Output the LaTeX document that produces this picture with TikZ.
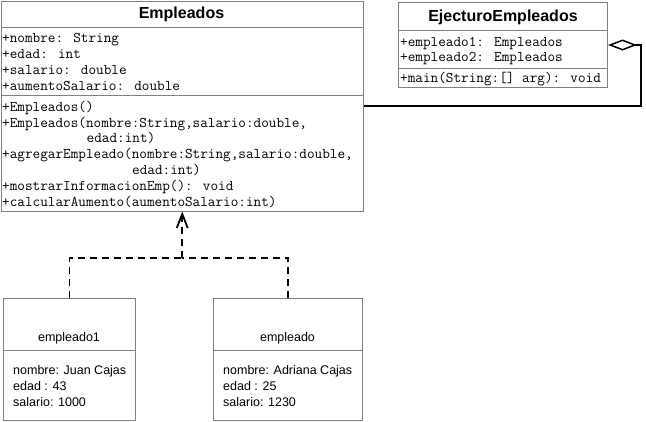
\documentclass[tikz,border=0pt]{standalone}
\usepackage{fontspec}
\setmainfont{Liberation Sans}
\usetikzlibrary{arrows.meta}
\begin{document}
\begin{tikzpicture}[x=1pt,y=1pt,
  box/.style={draw=black!50, line width=1pt, fill=white, inner sep=0pt, anchor=north west},
  sepline/.style={draw=black!50, line width=1pt},
  ttl/.style={font=\bfseries\fontsize{16}{18}\selectfont, inner sep=0pt},
  mono/.style={font=\ttfamily\fontsize{14.8}{16}\selectfont, anchor=base west, inner sep=0pt},
  objt/.style={font=\fontsize{12.5}{15}\selectfont, anchor=base west, inner sep=0pt},
  conn/.style={line width=1.8pt, black},
  depline/.style={conn, dash pattern=on 7pt off 5pt}
]
\useasboundingbox (0,0) rectangle (646,-421);
% Empleados class
\node[box, minimum width=362.5pt, minimum height=210pt] (emp) at (0.5,-0.5) {};
\node[ttl] (empT) at (181.5,-14) {Empleados};
\draw[sepline] (0.5,-27.5) -- (363,-27.5);
\draw[sepline] (0.5,-95.5) -- (363,-95.5);
\node[mono] (a1) at (2,-42.5) {+nombre: String};
\node[mono] (a2) at (2,-58.5) {+edad: int};
\node[mono] (a3) at (2,-74.5) {+salario: double};
\node[mono] (a4) at (2,-90.5) {+aumentoSalario: double};
\node[mono] (m1) at (2,-111) {+Empleados()};
\node[mono] (m2) at (2,-127) {+Empleados(nombre:String,salario:double,};
\node[mono] (m2b) at (86.5,-142.5) {edad:int)};
\node[mono] (m3) at (2,-158.5) {+agregarEmpleado(nombre:String,salario:double,};
\node[mono] (m3b) at (132,-174) {edad:int)};
\node[mono] (m4) at (2,-190) {+mostrarInformacionEmp(): void};
\node[mono] (m5) at (2,-206) {+calcularAumento(aumentoSalario:int)};
% EjecturoEmpleados class
\node[box, minimum width=209pt, minimum height=85pt] (ejec) at (398,-2) {};
\node[ttl] (ejT) at (503,-17) {EjecturoEmpleados};
\draw[sepline] (398,-30) -- (607,-30);
\draw[sepline] (398,-68) -- (607,-68);
\node[mono] (e1) at (400,-46) {+empleado1: Empleados};
\node[mono] (e2) at (400,-61) {+empleado2: Empleados};
\node[mono] (e3) at (400,-82) {+main(String:[] arg): void};
% object boxes
\node[box, minimum width=132pt, minimum height=121.5pt] (o1) at (3,-298) {};
\draw[sepline] (3,-350) -- (135,-350);
\node[font=\fontsize{12.5}{15}\selectfont, anchor=base, inner sep=0pt] (o1T) at (69,-341) {empleado1};
\node[objt] (o1a) at (13,-374) {nombre: Juan Cajas};
\node[objt] (o1b) at (13,-390) {edad : 43};
\node[objt] (o1c) at (13,-406) {salario: 1000};
\node[box, minimum width=149pt, minimum height=121.5pt] (o2) at (213,-298) {};
\draw[sepline] (213,-350) -- (362,-350);
\node[font=\fontsize{12.5}{15}\selectfont, anchor=base, inner sep=0pt] (o2T) at (287.5,-341) {empleado};
\node[objt] (o2a) at (223,-374) {nombre: Adriana Cajas};
\node[objt] (o2b) at (223,-390) {edad : 25};
\node[objt] (o2c) at (223,-406) {salario: 1230};
% aggregation
\draw[conn, {Diamond[open, length=29pt, width=11pt, line width=1.5pt]}-] (ejec.east) -- ++(33,0) |- (emp.east);
% dependency
\coordinate (j) at (emp.south |- 0,-258);
\draw[depline] (o1.north) |- (j);
\draw[depline] (o2.north) |- (j);
\draw[depline, -{Straight Barb[length=14pt, width=11pt, line width=1.8pt]}] (j) -- (emp.south);
\end{tikzpicture}
\end{document}
